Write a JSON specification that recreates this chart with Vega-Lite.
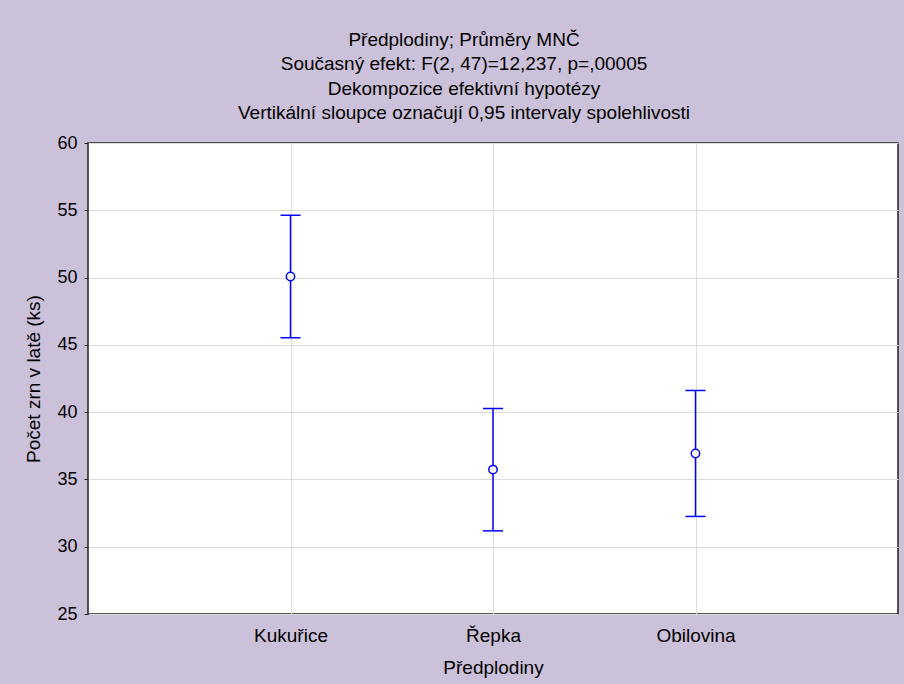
{
  "$schema": "https://vega.github.io/schema/vega-lite/v6.json",
  "width": 810,
  "height": 471,
  "autosize": {"type": "none"},
  "padding": {"left": 88, "top": 143, "right": 6, "bottom": 70},
  "background": "#ccc1da",
  "title": {
    "text": ["Předplodiny; Průměry MNČ", "Současný efekt: F(2, 47)=12,237, p=,00005", "Dekompozice efektivní hypotézy", "Vertikální sloupce označují 0,95 intervaly spolehlivosti"],
    "anchor": "middle",
    "frame": "group",
    "dx": -29,
    "dy": 28,
    "offset": 20,
    "baseline": "bottom",
    "lineHeight": 24.3,
    "fontSize": 19,
    "fontWeight": "normal",
    "color": "black"
  },
  "data": {
    "values": [
      {"plodina": "Kukuřice", "prumer": 50.08, "horni": 54.63, "dolni": 45.53},
      {"plodina": "Řepka", "prumer": 35.73, "horni": 40.27, "dolni": 31.18},
      {"plodina": "Obilovina", "prumer": 36.93, "horni": 41.61, "dolni": 32.25}
    ]
  },
  "encoding": {
    "x": {
      "field": "plodina",
      "type": "nominal",
      "scale": {"type": "point", "padding": 1, "domain": ["Kukuřice", "Řepka", "Obilovina"]},
      "axis": {
        "title": "Předplodiny",
        "labelAngle": 0,
        "labelFontSize": 19,
        "labelColor": "black",
        "labelPadding": 12,
        "ticks": false,
        "domain": false,
        "grid": true,
        "gridColor": "#dcdcdc",
        "titleFontSize": 19,
        "titleFontWeight": "normal",
        "titleColor": "black",
        "titlePadding": 13
      }
    }
  },
  "layer": [
    {
      "mark": {"type": "rule", "color": "#0000ff", "strokeWidth": 1.5},
      "encoding": {
        "y": {
          "field": "dolni",
          "type": "quantitative",
          "scale": {"domain": [25, 60], "nice": false, "zero": false},
          "axis": {
            "title": "Počet zrn v latě (ks)",
            "values": [25, 30, 35, 40, 45, 50, 55, 60],
            "labelFontSize": 18,
            "labelColor": "black",
            "labelPadding": 7,
            "tickSize": 4,
            "tickColor": "#222222",
            "domain": false,
            "grid": true,
            "gridColor": "#dcdcdc",
            "titleFontSize": 19,
            "titleFontWeight": "normal",
            "titleColor": "black",
            "titlePadding": 13
          }
        },
        "y2": {"field": "horni"}
      }
    },
    {
      "mark": {"type": "tick", "color": "#0000ff", "size": 20, "thickness": 1.5, "opacity": 1},
      "encoding": {"y": {"field": "horni", "type": "quantitative"}}
    },
    {
      "mark": {"type": "tick", "color": "#0000ff", "size": 20, "thickness": 1.5, "opacity": 1},
      "encoding": {"y": {"field": "dolni", "type": "quantitative"}}
    },
    {
      "mark": {"type": "point", "shape": "circle", "size": 70, "filled": true, "fill": "white", "stroke": "#0000ff", "strokeWidth": 1.5, "opacity": 1},
      "encoding": {"y": {"field": "prumer", "type": "quantitative"}}
    }
  ],
  "config": {
    "font": "Liberation Sans",
    "view": {"stroke": "#222222", "strokeWidth": 1.5, "fill": "white"}
  }
}
